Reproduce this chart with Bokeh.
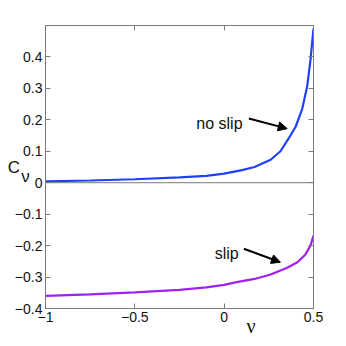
from bokeh.plotting import figure
from bokeh.models import (LinearAxis, FixedTicker, CustomJSTickFormatter, Span, Label,
                          Arrow, NormalHead, Range1d, Title)
from bokeh.embed import file_html
from bokeh.resources import INLINE

# ---- data ----
nu_noslip = [-1.0, -0.75, -0.5, -0.25, -0.1, 0.0, 0.1, 0.17, 0.26, 0.315, 0.36, 0.40, 0.437, 0.465, 0.483, 0.5]
cv_noslip = [0.004, 0.007, 0.011, 0.017, 0.022, 0.029, 0.040, 0.050, 0.073, 0.100, 0.140, 0.178, 0.235, 0.308, 0.39, 0.49]

nu_slip = [-1.0, -0.75, -0.5, -0.25, -0.1, 0.0, 0.07, 0.17, 0.26, 0.35, 0.41, 0.455, 0.483, 0.5]
cv_slip = [-0.360, -0.355, -0.349, -0.341, -0.333, -0.325, -0.316, -0.306, -0.292, -0.271, -0.253, -0.228, -0.200, -0.168]

x_ticks = [-1.0, -0.5, 0.0, 0.5]
x_tick_labels = ["\u22121", "\u22120.5", "0", "0.5"]
y_ticks = [-0.4, -0.3, -0.2, -0.1, 0.0, 0.1, 0.2, 0.3, 0.4, 0.5]
y_tick_labels = ["\u22120.4", "\u22120.3", "\u22120.2", "\u22120.1", "0", "0.1", "0.2", "0.3", "0.4", ""]

SANS = "Liberation Sans"
SERIF = "Liberation Serif"
GRAY = "#7a7a7a"
INK = "#111111"

p = figure(frame_width=268, frame_height=283, output_backend="svg", toolbar_location=None,
           x_range=Range1d(-1, 0.5), y_range=Range1d(-0.4, 0.5),
           x_axis_location=None, y_axis_location=None,
           min_border_left=45, min_border_top=25, min_border_right=33, min_border_bottom=38)
p.xgrid.visible = False
p.ygrid.visible = False
p.outline_line_color = GRAY
p.background_fill_color = "white"
p.border_fill_color = "white"

fmt_code = """
let best = 0; let d = 1e9;
for (let i = 0; i < vals.length; i++) { const e = Math.abs(vals[i] - tick); if (e < d) { d = e; best = i; } }
return labs[best];
"""

def make_axis(ticks, labels, show):
    ax = LinearAxis(ticker=FixedTicker(ticks=ticks),
                    formatter=CustomJSTickFormatter(args=dict(vals=ticks, labs=labels if show else [""] * len(ticks)),
                                                    code=fmt_code))
    ax.axis_line_color = GRAY
    ax.major_tick_line_color = GRAY
    ax.major_tick_in = 5
    ax.major_tick_out = 0
    ax.minor_tick_line_color = None
    ax.major_label_text_font = SANS
    ax.major_label_text_font_size = "14px"
    ax.major_label_text_color = INK
    ax.major_label_standoff = 3
    return ax

left_axis = make_axis(y_ticks, y_tick_labels, True)
# y title "C" with a lowered "ν" (overlapping lines)
left_axis.axis_label = "\u2002\nC\u2002\u200a\n\u2002\u2009\u200a\u03bd"
left_axis.axis_label_orientation = "horizontal"
left_axis.axis_label_text_font = SANS
left_axis.axis_label_text_font_size = "17px"
left_axis.axis_label_text_font_style = "normal"
left_axis.axis_label_text_color = INK
left_axis.axis_label_text_line_height = 0.5
left_axis.axis_label_standoff = -18
p.add_layout(left_axis, "left")
p.add_layout(make_axis(y_ticks, y_tick_labels, False), "right")
p.add_layout(make_axis(x_ticks, x_tick_labels, True), "below")
p.add_layout(make_axis(x_ticks, x_tick_labels, False), "above")

# x title "ν", placed right of centre as in the reference
p.add_layout(Title(text="\u03bd", align="left", offset=201, vertical_align="top", standoff=-19,
                   text_font=SERIF, text_font_size="20px", text_font_style="normal",
                   text_color=INK), "below")

p.add_layout(Span(location=0, dimension="width", line_color=GRAY, line_width=1))

p.line(nu_noslip, cv_noslip, line_color="#2040ff", line_width=2.2)
p.line(nu_slip, cv_slip, line_color="#a020f0", line_width=2.2)

p.add_layout(Label(x=-0.156, y=0.188, text="no slip", text_font=SANS, text_font_size="16px",
                   text_color=INK, text_baseline="alphabetic"))
p.add_layout(Label(x=-0.053, y=-0.2255, text="slip", text_font=SANS, text_font_size="16px",
                   text_color=INK, text_baseline="alphabetic"))

p.add_layout(Arrow(x_start=0.138, y_start=0.204, x_end=0.353, y_end=0.172, line_width=2,
                   line_color="black", end=NormalHead(size=9, fill_color="black", line_color="black")))
p.add_layout(Arrow(x_start=0.110, y_start=-0.210, x_end=0.315, y_end=-0.253, line_width=2,
                   line_color="black", end=NormalHead(size=9, fill_color="black", line_color="black")))

open("out.html", "w").write(file_html(p, INLINE))
